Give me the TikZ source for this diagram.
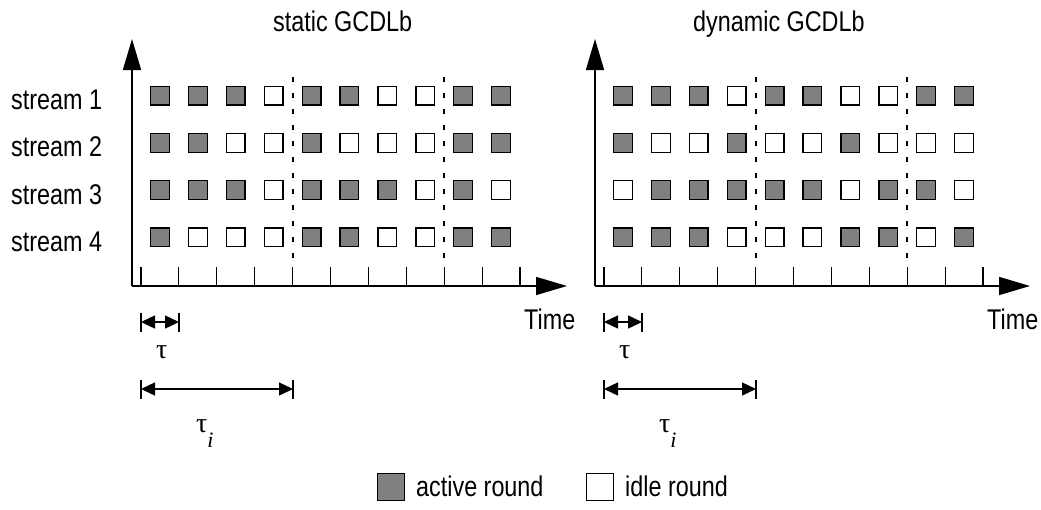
\documentclass[tikz,border=0pt]{standalone}
\usepackage{fontspec}
\setmainfont{Liberation Sans}[FakeStretch=0.82]
\newfontfamily\grk{Liberation Serif}
\usetikzlibrary{arrows.meta}
\definecolor{fill1}{RGB}{128,128,128}
\colorlet{fill0}{white}
\begin{document}
\begin{tikzpicture}[x=1pt,y=-1pt,
  lbl/.style={font=\fontsize{28.5}{32}\selectfont, inner sep=0pt, anchor=base west},
  axis/.style={line width=1.6pt, -{Triangle[length=31pt,width=18pt]}},
  tickln/.style={line width=1.1pt},
  sepln/.style={line width=1.4pt, dash pattern=on 5pt off 11pt},
  sq/.style={draw, line width=1.3pt, inner sep=0pt, minimum size=18.7pt, fill=#1},
  dim/.style={line width=1.4pt, {Triangle[length=14pt,width=13pt]}-{Triangle[length=14pt,width=13pt]}},
  barln/.style={line width=1.4pt},
  gk/.style={font=\grk\fontsize{28}{30}\selectfont, inner sep=0pt, anchor=base west}]
\useasboundingbox (0,0) rectangle (1041,509);

% axes, ticks, separators, dimension arrows for both panels
\foreach \p/\dx in {L/0,R/463} {
  \coordinate (\p o) at (132+\dx,286);
  \coordinate (\p y) at (132+\dx,39);
  \coordinate (\p x) at (567+\dx,286);
  \draw[axis] (\p o) -- (\p y);
  \draw[axis] (\p o) -- (\p x);
  \foreach \k in {0,...,10} {
    \draw[tickln] (141+37.9*\k+\dx,267) -- (141+37.9*\k+\dx,286);
  }
  \draw[sepln] (293+\dx,77) -- (293+\dx,262);
  \draw[sepln] (444+\dx,77) -- (444+\dx,262);
  \coordinate (\p a1) at (141+\dx,322);
  \coordinate (\p a2) at (179+\dx,322);
  \coordinate (\p b1) at (141+\dx,389);
  \coordinate (\p b2) at (293+\dx,389);
  \draw[barln] ([yshift=9.5pt]\p a1) -- ([yshift=-9.5pt]\p a1);
  \draw[barln] ([yshift=9.5pt]\p a2) -- ([yshift=-9.5pt]\p a2);
  \draw[barln] ([yshift=9.5pt]\p b1) -- ([yshift=-9.5pt]\p b1);
  \draw[barln] ([yshift=9.5pt]\p b2) -- ([yshift=-9.5pt]\p b2);
  \draw[dim] (\p a1) -- (\p a2);
  \draw[dim] (\p b1) -- (\p b2);
  \node[gk] (\p tau) at (156+\dx,358) {τ};
  \node[gk] (\p taui) at (196+\dx,432) {τ\raisebox{-15pt}{\fontsize{22}{24}\selectfont\itshape i}};
  \node[lbl] (\p time) at (524+\dx,329) {Time};
}

% squares, static
\foreach \r/\pat in {1/{1,1,1,0,1,1,0,0,1,1},2/{1,1,0,0,1,0,0,0,1,1},3/{1,1,1,0,1,1,1,0,1,0},4/{1,0,0,0,1,1,0,0,1,1}} {
  \foreach \v [count=\c] in \pat {
    \node[sq=fill\v] (L-\r-\c) at (141+37.9*\c-18.95, 95.5+47.33*\r-47.33) {};
  }
}
% squares, dynamic
\foreach \r/\pat in {1/{1,1,1,0,1,1,0,0,1,1},2/{1,0,0,1,0,0,1,0,0,0},3/{0,1,1,1,1,1,0,1,1,0},4/{1,1,1,0,0,0,1,1,0,1}} {
  \foreach \v [count=\c] in \pat {
    \node[sq=fill\v] (R-\r-\c) at (604+37.9*\c-18.95, 95.5+47.33*\r-47.33) {};
  }
}

% labels
\node[lbl] (s1) at (11,109) {stream 1};
\node[lbl] (s2) at (11,156) {stream 2};
\node[lbl] (s3) at (11,204) {stream 3};
\node[lbl] (s4) at (11,251) {stream 4};
\node[lbl] (tL) at (273,31) {static GCDLb};
\node[lbl] (tR) at (693,31) {dynamic GCDLb};

% legend
\node[sq=fill1, minimum size=26.7pt] (la) at (391,487) {};
\node[lbl] (lat) at (416,496) {active round};
\node[sq=fill0, minimum size=26.7pt] (li) at (600,487) {};
\node[lbl] (lit) at (625,496) {idle round};
\end{tikzpicture}
\end{document}
